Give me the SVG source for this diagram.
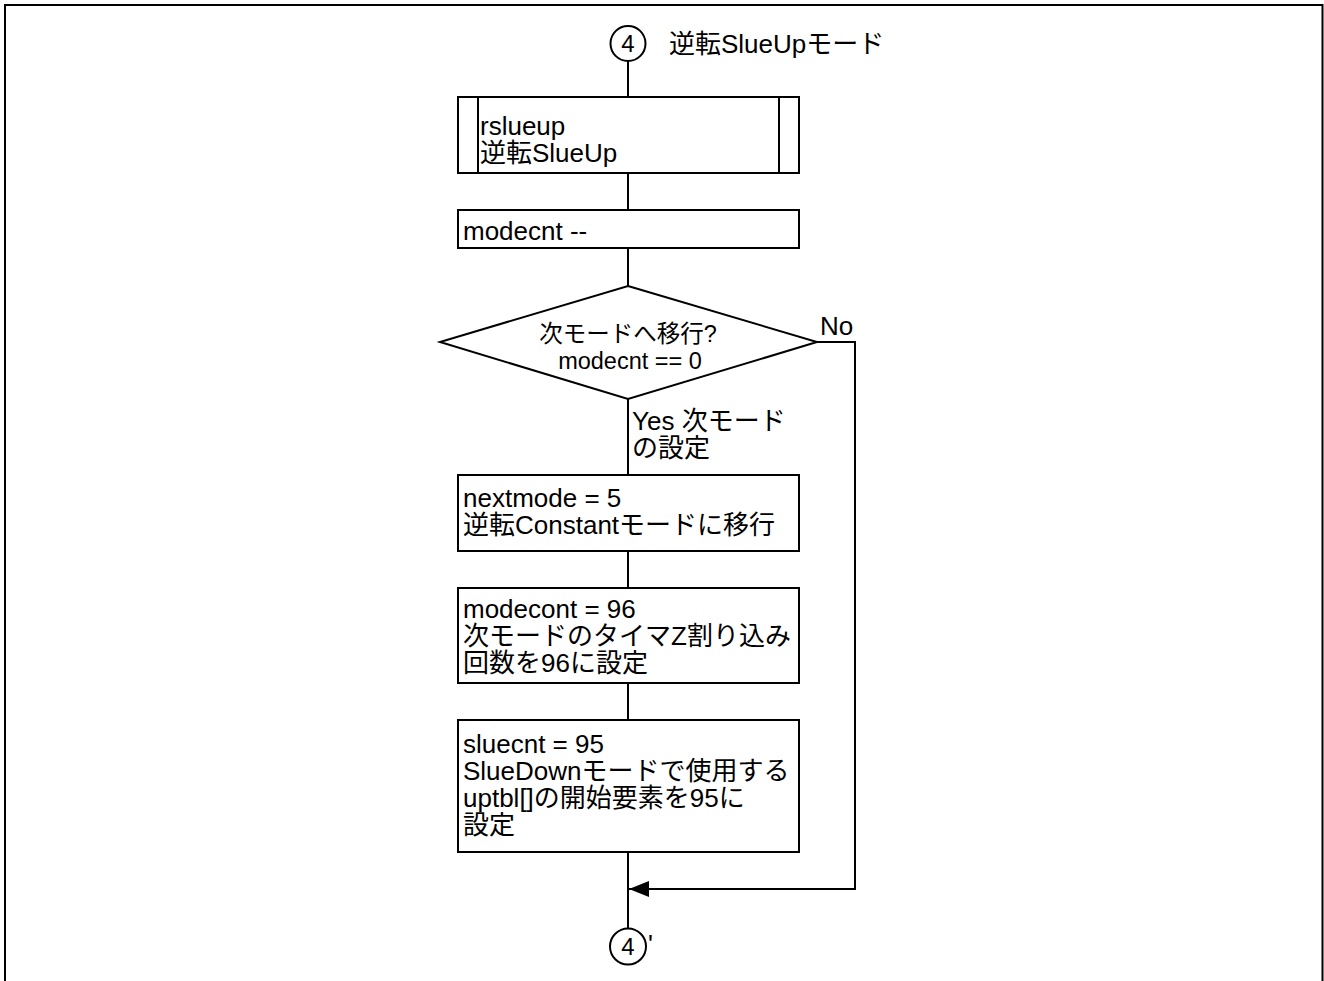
<svg xmlns="http://www.w3.org/2000/svg" width="1324" height="981" viewBox="0 0 1324 981">
<defs>
<style>
.t{font-family:"Liberation Sans","Noto Sans CJK JP",sans-serif;font-size:26px;fill:#000}
.s{font-size:23.5px}
.d{font-size:24px}
.box{fill:#fff;stroke:#000;stroke-width:2}
.ln{fill:none;stroke:#000;stroke-width:2}
</style>
<marker id="arr" viewBox="0 0 20 16" refX="20" refY="8" markerWidth="20" markerHeight="16" markerUnits="userSpaceOnUse" orient="auto">
<path d="M0,0 L20,8 L0,16 Z" fill="#000"/>
</marker>
</defs>
<rect width="1324" height="981" fill="#fff"/>
<path d="M5,981 V5 H1322.5 V981" fill="none" stroke="#000" stroke-width="2"/>

<g id="connectors">
<line class="ln" x1="628" y1="61" x2="628" y2="97"/>
<line class="ln" x1="628" y1="173" x2="628" y2="210"/>
<line class="ln" x1="628" y1="248" x2="628" y2="286"/>
<line class="ln" x1="628" y1="399" x2="628" y2="475"/>
<line class="ln" x1="628" y1="551" x2="628" y2="588"/>
<line class="ln" x1="628" y1="683" x2="628" y2="720"/>
<line class="ln" x1="628" y1="852" x2="628" y2="929"/>
<path class="ln" d="M817,342 H855 V889 H629" marker-end="url(#arr)"/>
<text class="t" x="820" y="335">No</text>
<text class="t" x="632" y="430">Yes 次モード</text>
<text class="t" x="632" y="457">の設定</text>
</g>

<g id="start">
<circle class="box" cx="628" cy="43.5" r="17.5"/>
<text class="t d" x="628" y="52" text-anchor="middle">4</text>
<text class="t" x="669" y="53">逆転SlueUpモード</text>
</g>

<g id="rslueup">
<rect class="box" x="458" y="97" width="341" height="76"/>
<line class="ln" x1="478" y1="97" x2="478" y2="173"/>
<line class="ln" x1="779" y1="97" x2="779" y2="173"/>
<text class="t" x="480" y="135">rslueup</text>
<text class="t" x="480" y="162">逆転SlueUp</text>
</g>

<g id="modecnt">
<rect class="box" x="458" y="210" width="341" height="38"/>
<text class="t" x="463" y="240">modecnt --</text>
</g>

<g id="decision">
<polygon class="box" points="628,286 817,342 628,399 440,342"/>
<text class="t s" x="628" y="342" text-anchor="middle">次モードへ移行?</text>
<text class="t s" x="630" y="369" text-anchor="middle">modecnt == 0</text>
</g>

<g id="nextmode">
<rect class="box" x="458" y="475" width="341" height="76"/>
<text class="t" x="463" y="507">nextmode = 5</text>
<text class="t" x="463" y="534">逆転Constantモードに移行</text>
</g>

<g id="modecont">
<rect class="box" x="458" y="588" width="341" height="95"/>
<text class="t" x="463" y="618">modecont = 96</text>
<text class="t" x="463" y="645">次モードのタイマZ割り込み</text>
<text class="t" x="463" y="672">回数を96に設定</text>
</g>

<g id="sluecnt">
<rect class="box" x="458" y="720" width="341" height="132"/>
<text class="t" x="463" y="753">sluecnt = 95</text>
<text class="t" x="463" y="780">SlueDownモードで使用する</text>
<text class="t" x="463" y="807">uptbl[]の開始要素を95に</text>
<text class="t" x="463" y="834">設定</text>
</g>

<g id="end">
<circle class="box" cx="628" cy="946.5" r="18"/>
<text class="t d" x="628" y="955" text-anchor="middle">4</text>
<text class="t" x="648" y="953">'</text>
</g>
</svg>
